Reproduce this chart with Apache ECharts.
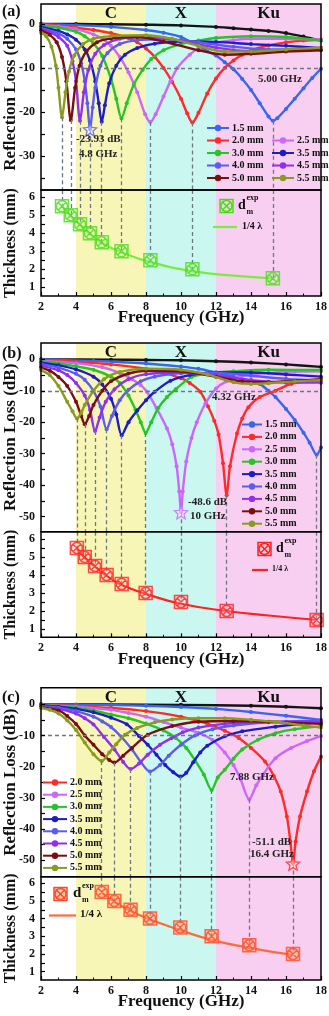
<!DOCTYPE html>
<html><head><meta charset="utf-8">
<script src="https://cdn.jsdelivr.net/npm/echarts@6/dist/echarts.min.js"></script>
<style>html,body{margin:0;padding:0;background:#fff}#c{width:329px;height:1016px}</style>
</head><body><div id="c"></div>
<script>
// ---------------- DATA ----------------
const thicknessNames = ['1.0 mm','1.5 mm','2.0 mm','2.5 mm','3.0 mm','3.5 mm','4.0 mm','4.5 mm','5.0 mm','5.5 mm'];
const bandNames = ['C','X','Ku'];
const bandEdges = [[4,8],[8,12],[12,18]];
const freqTicks = [2,4,6,8,10,12,14,16,18];

// Panel (a) reflection loss curves [GHz, dB]
const rlA_10 = [[2,0],[4,-0.05],[6,-0.1],[8,-0.2],[10,-0.35],[12,-0.7],[13,-1],[14,-1.3],[15,-1.6],[16,-2.1],[17,-2.9],[18,-3.8]];
const rlA_15 = [[2,-0.1],[4,-0.3],[6,-0.7],[8,-1.4],[9,-2],[10,-3],[10.6,-4.2],[11.5,-6.2],[12,-7.2],[12.5,-8.7],[13,-10.3],[13.5,-12.5],[14,-15],[14.5,-18],[15,-21],[15.25,-22],[15.5,-21.4],[16,-19.3],[16.5,-17],[17,-14.6],[17.5,-12.3],[18,-10.2]];
const rlA_20 = [[2,-0.2],[3,-0.5],[4,-0.9],[5,-1.4],[6,-2.1],[7,-3.2],[7.5,-4.2],[8,-5.6],[8.5,-7.5],[9,-10],[9.5,-13.2],[10,-17],[10.35,-20.3],[10.65,-22.4],[11,-20.2],[11.5,-15.8],[12,-12.4],[12.5,-10],[13,-8.3],[13.5,-7],[14,-6],[15,-4.9],[16,-4.2],[17,-3.8],[18,-3.6]];
const rlA_25 = [[2,-0.3],[3,-0.6],[4,-1.2],[5,-2.4],[5.5,-3.4],[6,-5],[6.5,-7.5],[7,-11],[7.5,-15.5],[7.95,-20.5],[8.25,-22.3],[8.55,-20.5],[9,-16.5],[9.4,-13],[9.8,-10],[10.5,-7],[11,-5.6],[12,-4.3],[13,-3.7],[14,-3.4],[16,-3.4],[18,-3.6]];
const rlA_30 = [[2,-0.4],[3,-0.9],[4,-1.8],[4.5,-2.8],[5,-4.4],[5.5,-7.3],[6,-12.5],[6.3,-17],[6.6,-21.4],[6.9,-18],[7.3,-13.8],[7.8,-10.5],[8.3,-8],[9,-6],[10,-4.6],[11,-3.8],[12,-3.2],[14,-2.8],[16,-3],[18,-3.8]];
const rlA_35 = [[2,-0.7],[3,-1.6],[3.5,-2.4],[4,-3.6],[4.5,-5.8],[4.8,-8.3],[5.1,-13],[5.3,-18],[5.47,-22.2],[5.65,-18.5],[5.9,-13.5],[6.3,-9.5],[6.8,-7],[7.5,-5.5],[8.5,-4.5],[10,-4],[12,-4.1],[14,-4.6],[16,-5],[18,-5.5]];
const rlA_40 = [[2,-1],[3,-2.2],[3.5,-3.4],[4,-5.8],[4.3,-9],[4.5,-13],[4.65,-18],[4.8,-23.93],[4.95,-19],[5.1,-14.5],[5.4,-9.5],[5.8,-6.6],[6.5,-4.6],[7.5,-3.7],[9,-3.5],[11,-4.2],[13,-5.2],[15,-5.8],[18,-5.8]];
const rlA_45 = [[2,-1.2],[2.5,-1.9],[3,-3],[3.5,-5],[3.8,-8.5],[4,-13],[4.23,-22],[4.45,-15.5],[4.7,-10.5],[5.1,-6.8],[5.6,-4.8],[6.5,-3.4],[8,-3],[10,-3.8],[12,-5.4],[14,-6.2],[16,-6],[18,-5.8]];
const rlA_50 = [[2,-1.5],[2.5,-2.5],[2.9,-4.2],[3.2,-7.5],[3.45,-13],[3.7,-21.8],[3.95,-14.5],[4.2,-9.5],[4.6,-6.2],[5.2,-4.2],[6,-3.3],[7.5,-3],[9,-4],[11,-6],[12.5,-7],[14,-6.8],[16,-6.3],[18,-6]];
const rlA_55 = [[2,-2],[2.3,-2.8],[2.6,-5.2],[2.85,-9.5],[3,-14.5],[3.2,-21.2],[3.4,-15.5],[3.6,-10.8],[3.9,-7.2],[4.4,-4.6],[5,-3.4],[6,-2.8],[8,-2.6],[9.5,-3.4],[11,-5],[12.5,-6.3],[14,-6.3],[16,-5.8],[18,-5.4]];
const thickA = [1.5,2.0,2.5,3.0,3.5,4.0,4.5,5.0,5.5];
const quarterA = [[3.2,5.5],[3.7,4.95],[4.25,4.45],[4.8,3.95],[5.5,3.45],[6.6,2.95],[8.25,2.4],[10.65,1.9],[13,1.65],[15.25,1.5]];

// Panel (b)
const rlB_10 = [[2,0],[6,-0.1],[8,-0.2],[10,-0.3],[12,-0.6],[14,-1],[16,-1.6],[18,-2.4]];
const rlB_15 = [[2,-0.1],[5,-0.5],[8,-1.3],[10,-2.3],[11,-3],[12,-4.2],[13,-5.5],[14,-6.8],[14.5,-7.8],[15,-10],[15.4,-12],[16,-15.8],[16.5,-19.3],[17,-23.3],[17.35,-26.5],[17.75,-30.3],[18,-28]];
const rlB_20 = [[2,-0.3],[4,-0.8],[6,-1.6],[8,-3],[9,-4.2],[10,-6],[10.5,-7.5],[11.1,-10.3],[11.55,-15],[11.9,-19.5],[12.15,-24],[12.4,-33],[12.61,-43.2],[12.8,-34],[13.2,-23.6],[13.5,-18.8],[13.85,-15.2],[14.5,-12],[15.4,-10],[16.3,-7.8],[17.2,-7],[18,-6.6]];
const rlB_25 = [[2,-0.5],[4,-1.2],[5.5,-2.5],[6.5,-4.3],[7.2,-6.3],[7.7,-8.2],[8.05,-10.3],[8.6,-15.5],[9.2,-22],[9.5,-27],[9.75,-34],[9.9,-42],[10,-48.6],[10.1,-42],[10.3,-32.5],[10.6,-25],[10.9,-20],[11.4,-14],[12,-9.3],[12.6,-7],[13.5,-5.3],[15,-4.3],[16.5,-3.9],[18,-3.8]];
const rlB_30 = [[2,-0.7],[3,-1.3],[4,-2.2],[5,-3.3],[6,-5.5],[6.5,-7.5],[7,-11.5],[7.4,-16],[7.7,-20],[7.98,-23.4],[8.3,-20],[8.7,-15.5],[9.2,-12],[9.7,-9.5],[10.6,-5.6],[11.5,-4.5],[13,-3.8],[15,-3.3],[18,-3.4]];
const rlB_35 = [[2,-1.1],[3,-1.9],[4,-3.2],[5,-5.5],[5.5,-8],[6,-12.5],[6.3,-17.5],[6.61,-24.1],[7,-20],[7.5,-16.3],[8,-13],[8.5,-10.3],[9.4,-6.8],[10.5,-5],[12,-4.2],[14,-4.2],[16,-4.8],[18,-5.5]];
const rlB_40 = [[2,-1.5],[3,-2.6],[4,-4.6],[4.5,-6.5],[5,-10],[5.4,-15],[5.75,-22.2],[6.05,-18],[6.5,-13],[7,-9.7],[7.7,-7],[8.5,-5.5],[10,-4.4],[12,-4.3],[14,-5.2],[16,-6.2],[18,-6.8]];
const rlB_45 = [[2,-2],[3,-3.5],[3.5,-5],[4,-7.5],[4.5,-11.5],[4.8,-16],[5.09,-22.8],[5.35,-18.5],[5.7,-13.5],[6.2,-9.5],[7,-6.3],[8,-4.7],[10,-4.2],[12,-5],[14,-6.6],[16,-7.4],[18,-7.4]];
const rlB_50 = [[2,-2.6],[2.5,-3.6],[3,-5.6],[3.5,-8.5],[4,-13.5],[4.3,-18],[4.5,-20.6],[4.75,-18],[5,-14.5],[5.5,-10],[6,-7],[7,-4.5],[8,-3.6],[10,-3.8],[12,-5.5],[13.5,-7],[15,-7.2],[16.5,-6.8],[18,-6.3]];
const rlB_55 = [[2,-3.4],[2.5,-5],[3,-8.5],[3.5,-13.5],[3.8,-16.5],[4.05,-18.8],[4.3,-17],[4.5,-14.5],[5,-10],[5.6,-6.3],[6.5,-4],[8,-3],[10,-3.3],[11.5,-4.8],[13,-7.3],[14,-7.8],[15,-7.6],[16.5,-7],[18,-6.6]];
const thickB = [1.5,2.0,2.5,3.0,3.5,4.0,4.5,5.0,5.5];
const quarterB = [[4.05,5.45],[4.5,4.95],[5.1,4.45],[5.75,3.95],[6.6,3.45],[8,2.95],[10,2.4],[12.6,2.0],[15,1.75],[17.8,1.5]];

// Panel (c)
const rlC_10 = [[2,0],[6,-0.05],[10,-0.2],[14,-0.5],[16,-0.8],[18,-1.3]];
const rlC_15 = [[2,0],[4,-0.1],[6,-0.25],[8,-0.5],[10,-0.9],[12,-1.5],[14,-2.5],[16,-3.7],[18,-5]];
const rlC_20 = [[2,-0.2],[4,-0.6],[6,-1.2],[8,-2.2],[10,-4],[11.5,-6.2],[12.5,-8.5],[13.3,-10.8],[14,-14],[14.8,-18.4],[15.3,-23],[15.7,-28],[16.05,-36],[16.25,-44],[16.4,-51.1],[16.55,-44],[16.8,-36],[17.2,-28],[17.6,-21.5],[18,-16.8]];
const rlC_25 = [[2,-0.3],[4,-0.8],[6,-1.8],[7,-2.8],[8,-4],[9,-5.7],[10,-7.5],[11,-9.2],[11.8,-11.5],[12.5,-15.5],[13,-19.5],[13.4,-24],[13.9,-30.5],[14.3,-26],[14.7,-22.5],[15.4,-17.3],[16.3,-14],[17.2,-11.8],[18,-10.2]];
const rlC_30 = [[2,-0.3],[3,-0.6],[4,-1.1],[5,-2],[6,-3.3],[7,-4.5],[8,-6.2],[9,-8.4],[9.7,-10.8],[10.3,-14],[10.8,-18],[11.3,-22.5],[11.75,-27.5],[12.1,-23.5],[12.5,-21],[13,-17.5],[13.5,-14.5],[14.4,-11.4],[15.4,-9.3],[16.5,-8],[18,-7.1]];
const rlC_35 = [[2,-0.4],[3,-0.8],[4,-1.5],[5,-2.6],[6,-4.3],[6.9,-6.4],[7.6,-10.2],[8.1,-13],[8.6,-16.2],[9.1,-19.5],[9.56,-21.8],[9.96,-23.2],[10.3,-22],[10.7,-18.6],[11.1,-15.5],[11.5,-13.3],[12.5,-10.3],[13.5,-8.7],[15.4,-7.2],[17,-6.2],[18,-5.7]];
const rlC_40 = [[2,-0.6],[3,-1.1],[4,-2.2],[5,-4],[5.5,-5.5],[6,-7.3],[6.6,-10.5],[7.2,-14.5],[7.7,-18.5],[8.23,-21.6],[8.8,-19.5],[9.3,-16.5],[10,-13],[10.8,-10],[11.8,-8],[13,-6.8],[15,-5.8],[18,-5.3]];
const rlC_45 = [[2,-0.8],[3,-1.5],[4,-3],[4.5,-4.5],[5,-6.5],[5.6,-10.5],[6.2,-14.5],[6.7,-18.5],[7.12,-20.8],[7.6,-19],[8.1,-16.2],[8.8,-13],[9.45,-10.9],[10.1,-9],[11,-7.5],[12.5,-6.3],[14,-5.8],[16,-5.6],[18,-5.7]];
const rlC_50 = [[2,-1],[3,-2],[3.5,-3.8],[4,-6.3],[4.5,-10],[5,-13],[5.5,-16],[5.9,-17.9],[6.19,-18.7],[6.7,-16.5],[7.2,-14],[8.1,-9.8],[9.5,-7],[11,-5.6],[13,-5.4],[15,-5.6],[18,-6.3]];
const rlC_55 = [[2,-1.2],[2.5,-1.8],[3,-3],[3.5,-5.2],[4,-8.3],[4.5,-12.3],[5,-16],[5.47,-18.2],[5.9,-15.5],[6.3,-12.8],[6.8,-9.8],[7.5,-7.6],[8.5,-5.8],[9.5,-4.9],[11,-4.5],[12.5,-4.5],[14,-5],[15.5,-5.7],[17,-6.8],[18,-7.5]];
const thickC = [2.0,2.5,3.0,3.5,4.0,4.5,5.0,5.5];
const quarterC = [[5.5,5.45],[6.2,4.95],[7.1,4.45],[8.25,3.95],[9.95,3.35],[11.75,2.8],[13.9,2.35],[16.4,1.95]];

// ---------------- STYLE / LAYOUT ----------------
const FONT = '"Liberation Serif","Times New Roman",serif';
const COLORS = {'1.0 mm':'#151515','1.5 mm':'#3a66ee','2.0 mm':'#ff2a2a','2.5 mm':'#cc66ff','3.0 mm':'#26c526',
  '3.5 mm':'#1d1dc4','4.0 mm':'#5c5cf2','4.5 mm':'#9030ee','5.0 mm':'#7a0e10','5.5 mm':'#8b9b20'};
const BAND_COLORS = ['#f8f6b6','#caf7f0','#f8cff0'];
const DEXP_SYMBOL = 'path://M0,0L20,0L20,20L0,20Z M3.5,3.5L16.5,16.5 M16.5,3.5L3.5,16.5 M10,1.5A8.5,8.5,0,1,1,9.99,1.5Z';
const STAR = 'path://M10,0L12.9,6.9L20,7.6L14.6,12.3L16.2,19.3L10,15.6L3.8,19.3L5.4,12.3L0,7.6L7.1,6.9Z';

const panels = [
  { label:'(a)', labelY:4,
    names:thicknessNames, curves:[rlA_10,rlA_15,rlA_20,rlA_25,rlA_30,rlA_35,rlA_40,rlA_45,rlA_50,rlA_55],
    dipNames:thicknessNames.slice(1), thick:thickA, quarter:quarterA, star:'4.0 mm',
    topGrid:[4,186], botGrid:[190,106], topRange:[-37.7,4.5], botRange:[0.52,6.4],
    rlTicks:[0,-10,-20,-30], rlMinor:[0,-5,-10,-15,-20,-25,-30,-35],
    qColor:'#78ee3c', mStroke:'#4fd81e', mFill:'rgba(190,255,170,0.35)',
    legends:[{data:['1.5 mm','2.0 mm','3.0 mm','4.0 mm','5.0 mm'],left:206,top:123,itemWidth:22},
             {data:['2.5 mm','3.5 mm','4.5 mm','5.5 mm'],left:271,top:135.5,itemWidth:22}],
    legGap:2.5,
    dexp:{x:226.5,y:206,dx:238,size:13,fs:14}, qLeg:{x1:213,x2:237,y:227,tx:242,fs:10},
    notes:[['-23.93 dB',76,140],['4.8 GHz',79,155],['5.00 GHz',258,80]] },
  { label:'(b)', labelY:346,
    names:thicknessNames, curves:[rlB_10,rlB_15,rlB_20,rlB_25,rlB_30,rlB_35,rlB_40,rlB_45,rlB_50,rlB_55],
    dipNames:thicknessNames.slice(1), thick:thickB, quarter:quarterB, star:'2.5 mm',
    topGrid:[343,188.7], botGrid:[531.7,105.6], topRange:[-54.8,5.2], botRange:[0.54,6.4],
    rlTicks:[0,-10,-20,-30,-40,-50], rlMinor:[0,-5,-10,-15,-20,-25,-30,-35,-40,-45,-50],
    qColor:'#ff2222', mStroke:'#ff2020', mFill:'rgba(255,200,200,0.35)',
    legends:[{data:thicknessNames.slice(1),left:241,top:419.5,itemWidth:20}],
    legGap:2.4,
    dexp:{x:264.5,y:549,dx:276,size:13,fs:14}, qLeg:{x1:252,x2:268,y:570,tx:272,fs:8},
    notes:[['-48.6 dB',188,503],['10 GHz',190,517],['4.32 GHz',212,398]] },
  { label:'(c)', labelY:690,
    names:thicknessNames, curves:[rlC_10,rlC_15,rlC_20,rlC_25,rlC_30,rlC_35,rlC_40,rlC_45,rlC_50,rlC_55],
    dipNames:thicknessNames.slice(2), thick:thickC, quarter:quarterC, star:'2.0 mm',
    topGrid:[687.7,189], botGrid:[876.7,103.3], topRange:[-55.3,5.3], botRange:[0.53,6.37],
    rlTicks:[0,-10,-20,-30,-40,-50], rlMinor:[0,-5,-10,-15,-20,-25,-30,-35,-40,-45,-50],
    qColor:'#ff6a3a', mStroke:'#ff4a2a', mFill:'rgba(250,170,120,0.6)',
    legends:[{data:thicknessNames.slice(2),left:42,top:777.5,itemWidth:24}],
    legGap:2.2,
    dexp:{x:60.5,y:894,dx:73,size:13,fs:15}, qLeg:{x1:49,x2:76,y:915.5,tx:80,fs:11},
    notes:[['7.88 GHz',230,778],['-51.1 dB',252,843],['16.4 GHz',250,855]] }
];

function dipOf(arr){ let m = arr[0]; arr.forEach(p => { if (p[1] < m[1]) m = p; }); return m; }

const boldText = (size) => ({fontFamily:FONT, fontWeight:'bold', fontSize:size, color:'#111'});
const option = {animation:false, backgroundColor:'#fff', grid:[], xAxis:[], yAxis:[], series:[], legend:[], graphic:[]};

panels.forEach((P, i) => {
  const gt = 2*i, gb = 2*i + 1;
  const gridBase = {left:41, right:8, show:true, z:10, borderColor:'#000', borderWidth:1.5, backgroundColor:'transparent',
    containLabel:false, outerBoundsMode:'none'};
  option.grid.push(Object.assign({top:P.topGrid[0], height:P.topGrid[1]}, gridBase));
  option.grid.push(Object.assign({top:P.botGrid[0], height:P.botGrid[1]}, gridBase));

  option.xAxis.push({gridIndex:gt, type:'value', min:2, max:18, interval:2, z:10,
    axisLabel:{show:false}, axisTick:{show:false}, splitLine:{show:false}, axisLine:{show:false}});
  option.xAxis.push({gridIndex:gb, type:'value', min:2, max:18, interval:2, z:10,
    axisLabel:Object.assign({margin:5, customValues:freqTicks}, boldText(12)),
    axisTick:{inside:true, length:4, lineStyle:{color:'#000', width:1.2}},
    minorTick:{show:true, splitNumber:2, length:2.5, lineStyle:{color:'#000', width:1}},
    splitLine:{show:false}, minorSplitLine:{show:false}, axisLine:{show:false},
    name:'Frequency (GHz)', nameLocation:'middle', nameGap:13.5, nameMoveOverlap:false, nameTextStyle:boldText(17)});

  option.yAxis.push({gridIndex:gt, type:'value', min:P.topRange[0], max:P.topRange[1], z:10,
    axisLabel:Object.assign({margin:6, customValues:P.rlTicks}, boldText(12)),
    axisTick:{inside:true, length:4, customValues:P.rlMinor, lineStyle:{color:'#000', width:1.2}},
    splitLine:{show:false}, axisLine:{show:false},
    name:'Reflection Loss (dB)', nameLocation:'middle', nameGap:22, nameRotate:90, nameMoveOverlap:false, nameTextStyle:boldText(17)});
  option.yAxis.push({gridIndex:gb, type:'value', min:P.botRange[0], max:P.botRange[1], z:10,
    axisLabel:Object.assign({margin:6, customValues:[1,2,3,4,5,6]}, boldText(12)),
    axisTick:{inside:true, length:4, customValues:[1,1.5,2,2.5,3,3.5,4,4.5,5,5.5,6], lineStyle:{color:'#000', width:1.2}},
    splitLine:{show:false}, axisLine:{show:false},
    name:'Thickness (mm)', nameLocation:'middle', nameGap:22, nameRotate:90, nameMoveOverlap:false, nameTextStyle:boldText(16)});

  const dips = P.dipNames.map(nm => dipOf(P.curves[P.names.indexOf(nm)]));
  const dash = {type:[4,3], color:'#6c7884', width:1.3};

  option.series.push({type:'line', data:[], xAxisIndex:gt, yAxisIndex:gt, z:1, silent:true,
    markArea:{silent:true, data:bandEdges.map((b,k)=>[
      {coord:[b[0],P.topRange[1]], itemStyle:{color:BAND_COLORS[k]},
       label:{show:true, position:'insideTop', distance:1, formatter:bandNames[k], fontFamily:FONT, fontWeight:'bold', fontSize:17, color:'#111'}},
      {coord:[b[1],P.topRange[0]]}])},
    markLine:{silent:true, symbol:'none', label:{show:false}, lineStyle:dash,
      data:[[{coord:[2,-10]},{coord:[18,-10]}]].concat(dips.map(d=>[{coord:[d[0],d[1]]},{coord:[d[0],P.topRange[0]]}]))}});
  option.series.push({type:'line', data:[], xAxisIndex:gb, yAxisIndex:gb, z:1, silent:true,
    markArea:{silent:true, data:bandEdges.map((b,k)=>[
      {coord:[b[0],P.botRange[1]], itemStyle:{color:BAND_COLORS[k]}},{coord:[b[1],P.botRange[0]]}])},
    markLine:{silent:true, symbol:'none', label:{show:false}, lineStyle:dash,
      data:dips.map((d,k)=>[{coord:[d[0],P.botRange[1]]},{coord:[d[0],P.thick[k]]}])}});

  P.names.forEach((nm,k) => {
    option.series.push({type:'line', name:nm, xAxisIndex:gt, yAxisIndex:gt, data:P.curves[k],
      smooth:0.3, symbol:'circle', symbolSize:4, showSymbol:true, silent:true, z:3+k*0.1,
      lineStyle:{width:2.4, color:COLORS[nm]}, itemStyle:{color:COLORS[nm]}});
  });
  option.series.push({type:'scatter', xAxisIndex:gt, yAxisIndex:gt, silent:true, z:6,
    data:[dipOf(P.curves[P.names.indexOf(P.star)])], symbol:STAR, symbolSize:13,
    itemStyle:{color:'rgba(255,255,255,0.55)', borderColor:COLORS[P.star], borderWidth:1.4}});

  option.series.push({type:'line', name:'1/4 λ', xAxisIndex:gb, yAxisIndex:gb, data:P.quarter, smooth:true,
    showSymbol:false, silent:true, z:4, lineStyle:{width:2.2, color:P.qColor}});
  option.series.push({type:'scatter', xAxisIndex:gb, yAxisIndex:gb, silent:true, z:5,
    data:dips.map((d,k)=>[d[0],P.thick[k]]), symbol:DEXP_SYMBOL, symbolSize:13,
    itemStyle:{color:P.mFill, borderColor:P.mStroke, borderWidth:1.5}});

  P.legends.forEach(L => option.legend.push({data:L.data, orient:'vertical', left:L.left, top:L.top, padding:0,
    itemWidth:L.itemWidth, itemHeight:8, itemGap:P.legGap, selectedMode:false, z:20,
    textStyle:{fontFamily:FONT, fontWeight:'bold', fontSize:10, color:'#111', padding:[0,0,0,-2]}}));

  option.graphic.push({type:'text', left:2, top:P.labelY, silent:true, z:100, style:Object.assign({text:P.label}, boldText(16), {fill:'#111'})});
  P.notes.forEach(n => option.graphic.push({type:'text', left:n[1], top:n[2]-6.5, silent:true, z:100,
    style:{text:n[0], fontFamily:FONT, fontWeight:'bold', fontSize:11, fill:'#222'}}));

  const D = P.dexp, h = D.size/2;
  option.graphic.push({type:'group', silent:true, z:100, children:[
    {type:'rect', z:100, shape:{x:D.x-h, y:D.y-h, width:D.size, height:D.size}, style:{fill:P.mFill, stroke:P.mStroke, lineWidth:1.5}},
    {type:'circle', z:100, shape:{cx:D.x, cy:D.y, r:h-1}, style:{fill:'none', stroke:P.mStroke, lineWidth:1.5}},
    {type:'line', z:100, shape:{x1:D.x-h+2, y1:D.y-h+2, x2:D.x+h-2, y2:D.y+h-2}, style:{stroke:P.mStroke, lineWidth:1.5}},
    {type:'line', z:100, shape:{x1:D.x+h-2, y1:D.y-h+2, x2:D.x-h+2, y2:D.y+h-2}, style:{stroke:P.mStroke, lineWidth:1.5}},
    {type:'text', z:100, x:D.dx, y:D.y-D.fs*0.55, style:{text:'d', fontFamily:FONT, fontWeight:'bold', fontSize:D.fs, fill:'#111'}},
    {type:'text', z:100, x:D.dx+D.fs*0.6, y:D.y-12, style:{text:'exp', fontFamily:FONT, fontWeight:'bold', fontSize:8, fill:'#111'}},
    {type:'text', z:100, x:D.dx+D.fs*0.6, y:D.y+2, style:{text:'m', fontFamily:FONT, fontWeight:'bold', fontSize:8, fill:'#111'}}
  ]});
  const Q = P.qLeg;
  option.graphic.push({type:'group', silent:true, z:100, children:[
    {type:'line', z:100, shape:{x1:Q.x1, y1:Q.y, x2:Q.x2, y2:Q.y}, style:{stroke:P.qColor, lineWidth:2.2}},
    {type:'text', z:100, x:Q.tx, y:Q.y-Q.fs*0.6, style:{text:'1/4 λ', fontFamily:FONT, fontWeight:'bold', fontSize:Q.fs, fill:'#111'}}
  ]});
});

const chart = echarts.init(document.getElementById('c'), null, {renderer:'canvas'});
chart.setOption(option);
</script></body></html>
